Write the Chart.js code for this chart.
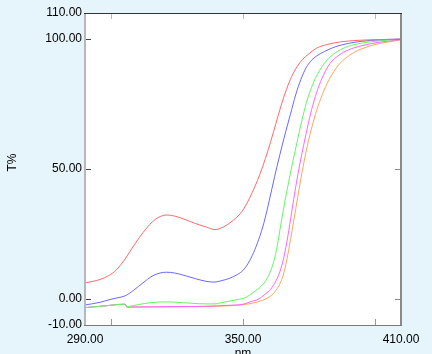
<!DOCTYPE html>
<html>
<head>
<meta charset="utf-8">
<script src="https://cdn.jsdelivr.net/npm/chart.js@4/dist/chart.umd.min.js"></script>
<style>
  html, body { margin: 0; padding: 0; background: #e6f4fb; overflow: hidden; }
  #wrap { width: 432px; height: 354px; }
</style>
</head>
<body>
<div id="wrap"><canvas id="c" width="432" height="354"></canvas></div>
<script>
// ---- data (wavelength nm, transmittance %) ----
const xLabelTicks = [290, 350, 410];
const yLabelTicks = [-10, 0, 50, 100, 110];
const xMarkTicks = [300, 350, 400];
const yMarkTicks = [0, 50, 100];
const xTitle = 'nm';
const yTitle = 'T%';

const redNm = [290, 293, 296, 299, 302, 305.5, 308.5, 312, 315.5, 318.5, 321, 324, 328, 332, 336, 339.4, 341.5, 343.8, 346.3, 348.5, 350.5, 352.5, 354.5, 356.5, 358.5, 360.5, 362.5, 364.5, 366.5, 368.5, 370.5, 372.5, 375, 378, 382, 387, 394, 402, 410];
const redT  = [6.2, 6.8, 7.6, 9.0, 11.3, 15.8, 20.5, 25.5, 29.6, 31.7, 32.3, 31.9, 30.6, 29.0, 27.7, 26.7, 27.2, 28.4, 30.3, 32.3, 35.0, 38.8, 43.2, 48.2, 54.0, 60.5, 67.5, 74.5, 80.6, 85.6, 89.3, 92.0, 94.3, 96.5, 97.9, 98.9, 99.5, 99.8, 99.9];

const blueNm = [290, 293, 296, 299.5, 302.5, 305.2, 308.5, 312, 315.5, 318.5, 321, 324, 328, 332, 336, 339, 342, 345, 348, 350, 352, 354, 356, 358, 360, 362, 364, 366, 368, 370, 372, 374, 376, 378, 381, 385, 390, 395, 402, 410];
const blueT  = [-2.3, -1.8, -1.2, -0.2, 0.5, 1.2, 3.4, 6.2, 8.8, 10.0, 10.3, 10.0, 9.0, 7.8, 6.8, 6.5, 7.1, 8.0, 9.5, 11.0, 13.8, 17.8, 23.0, 29.5, 38.0, 47.0, 55.5, 63.5, 71.0, 78.5, 84.5, 89.0, 91.8, 93.5, 95.2, 97.0, 98.3, 99.1, 99.7, 100];

const greenNm = [290, 297, 305.2, 305.9, 310, 315, 321, 327, 333, 339.4, 341.3, 345, 348, 351, 354, 357, 359, 360.5, 361.8, 363, 364.4, 366, 367.5, 369, 370.5, 372.3, 374, 376, 378, 380, 382.5, 386, 390, 395, 402, 410];
const greenT  = [-3.3, -2.7, -2.0, -2.9, -2.2, -1.4, -1.1, -1.4, -1.8, -1.9, -1.5, -0.8, -0.2, 0.6, 2.6, 5.0, 7.6, 10.8, 14.8, 20.5, 28.8, 38.0, 45.8, 53.2, 60.2, 68.4, 75.2, 81.3, 85.9, 89.4, 92.5, 95.3, 97.2, 98.4, 99.3, 99.9];

const magentaNm = [290, 297, 305.2, 305.9, 315, 325, 335, 345, 350, 353, 356, 358, 360, 362, 364, 365.5, 367, 368.5, 370, 371.5, 373, 374.8, 376.5, 378.5, 380.5, 383, 386.5, 390, 395, 402, 410];
const magentaT  = [-3.3, -2.7, -2.0, -3.1, -3.0, -2.9, -2.8, -2.4, -2.0, -1.0, 0.0, 1.5, 3.2, 6.0, 10.5, 16.0, 24.0, 33.5, 43.0, 51.5, 59.0, 67.5, 74.5, 81.0, 86.0, 90.5, 93.8, 95.8, 97.4, 98.8, 99.8];

const orangeNm = [290, 297, 305.2, 305.9, 315, 325, 335, 345, 350, 354, 357.5, 360, 362, 364, 365.5, 367, 368.5, 370, 371.5, 373.5, 375.5, 377.5, 379.5, 382, 384.5, 387, 390.5, 394.5, 402, 408, 410];
const orangeT  = [-3.3, -2.7, -2.0, -3.1, -3.1, -3.0, -2.9, -2.6, -2.2, -1.5, -0.5, 0.8, 2.6, 5.8, 10.0, 17.0, 25.5, 34.5, 43.5, 54.5, 63.5, 71.0, 77.0, 83.0, 87.5, 90.8, 93.8, 96.0, 98.3, 99.3, 99.7];

// ---- build datasets ----
function pts(xs, ys) { return xs.map((x, i) => ({ x: x, y: ys[i] })); }
function ds(xs, ys, color) {
  return { data: pts(xs, ys), borderColor: color, borderWidth: 1, pointRadius: 0,
           fill: false, cubicInterpolationMode: 'monotone' };
}

Chart.defaults.font.family = "'Liberation Sans', Arial, Helvetica, sans-serif";
Chart.defaults.font.size = 12;
Chart.defaults.color = '#000';

const framePlugin = {
  id: 'frame',
  beforeDraw(chart) {
    const { ctx, chartArea: a } = chart;
    ctx.save();
    ctx.fillStyle = '#ffffff';
    ctx.fillRect(a.left, a.top, a.right - a.left, a.bottom - a.top);
    ctx.restore();
  },
  afterDatasetsDraw(chart) {
    const { ctx, chartArea: a, scales: { x, y } } = chart;
    const line = (x1, y1, x2, y2) => { ctx.beginPath(); ctx.moveTo(x1, y1); ctx.lineTo(x2, y2); ctx.stroke(); };
    ctx.save();
    ctx.lineWidth = 1;
    xMarkTicks.forEach(v => {
      const px = Math.round(x.getPixelForValue(v)) + 0.5;
      ctx.strokeStyle = '#999'; line(px, a.bottom, px, a.bottom - 6);
      ctx.strokeStyle = '#bbb'; line(px, a.top, px, a.top + 6);
    });
    yMarkTicks.forEach(v => {
      const py = Math.round(y.getPixelForValue(v)) + 0.5;
      ctx.strokeStyle = '#444'; line(a.left, py, a.left + 6, py);
      ctx.strokeStyle = '#888'; line(a.right, py, a.right - 6, py);
    });
    // frame
    ctx.lineWidth = 2;
    ctx.strokeStyle = '#b8b8b8'; line(a.left, a.top, a.left, a.bottom);
    ctx.strokeStyle = '#8a8a8a'; line(a.right, a.top, a.right, a.bottom + 1);
    ctx.lineWidth = 1;
    ctx.strokeStyle = '#333'; line(a.left - 1, a.top + 0.5, a.right + 1, a.top + 0.5);
    ctx.strokeStyle = '#7a7a7a'; line(a.left - 1, a.bottom + 0.5, a.right + 1, a.bottom + 0.5);
    // axis titles
    ctx.fillStyle = '#000';
    ctx.font = "12px 'Liberation Sans', Arial, sans-serif";
    ctx.textAlign = 'center';
    ctx.textBaseline = 'alphabetic';
    ctx.fillText(xTitle, (a.left + a.right) / 2, 356.5);
    ctx.save();
    ctx.translate(15.5, 162.5);
    ctx.rotate(-Math.PI / 2);
    ctx.fillText(yTitle, 0, 0);
    ctx.restore();
    ctx.restore();
  }
};

new Chart(document.getElementById('c'), {
  type: 'line',
  data: {
    datasets: [
      ds(redNm, redT, 'rgb(255,105,105)'),
      ds(blueNm, blueT, 'rgb(105,105,255)'),
      ds(greenNm, greenT, 'rgb(100,245,100)'),
      ds(magentaNm, magentaT, 'rgb(255,100,255)'),
      ds(orangeNm, orangeT, 'rgb(255,165,95)')
    ]
  },
  options: {
    responsive: false,
    animation: false,
    layout: { padding: { top: 13, right: 31, left: 0, bottom: 0 } },
    plugins: { legend: { display: false }, tooltip: { enabled: false } },
    scales: {
      x: {
        type: 'linear', min: 290, max: 410,
        grid: { display: false, drawTicks: false },
        border: { display: false },
        afterBuildTicks: s => { s.ticks = xLabelTicks.map(v => ({ value: v })); },
        afterFit: s => { s.height = 29; },
        ticks: { padding: 7, maxRotation: 0, autoSkip: false, callback: v => Number(v).toFixed(2) }
      },
      y: {
        type: 'linear', min: -10, max: 110,
        grid: { display: false, drawTicks: false },
        border: { display: false },
        afterBuildTicks: s => { s.ticks = yLabelTicks.map(v => ({ value: v })); },
        afterFit: s => { s.width = 85; },
        ticks: { padding: 3, autoSkip: false, callback: v => Number(v).toFixed(2) }
      }
    }
  },
  plugins: [framePlugin]
});
</script>
</body>
</html>
